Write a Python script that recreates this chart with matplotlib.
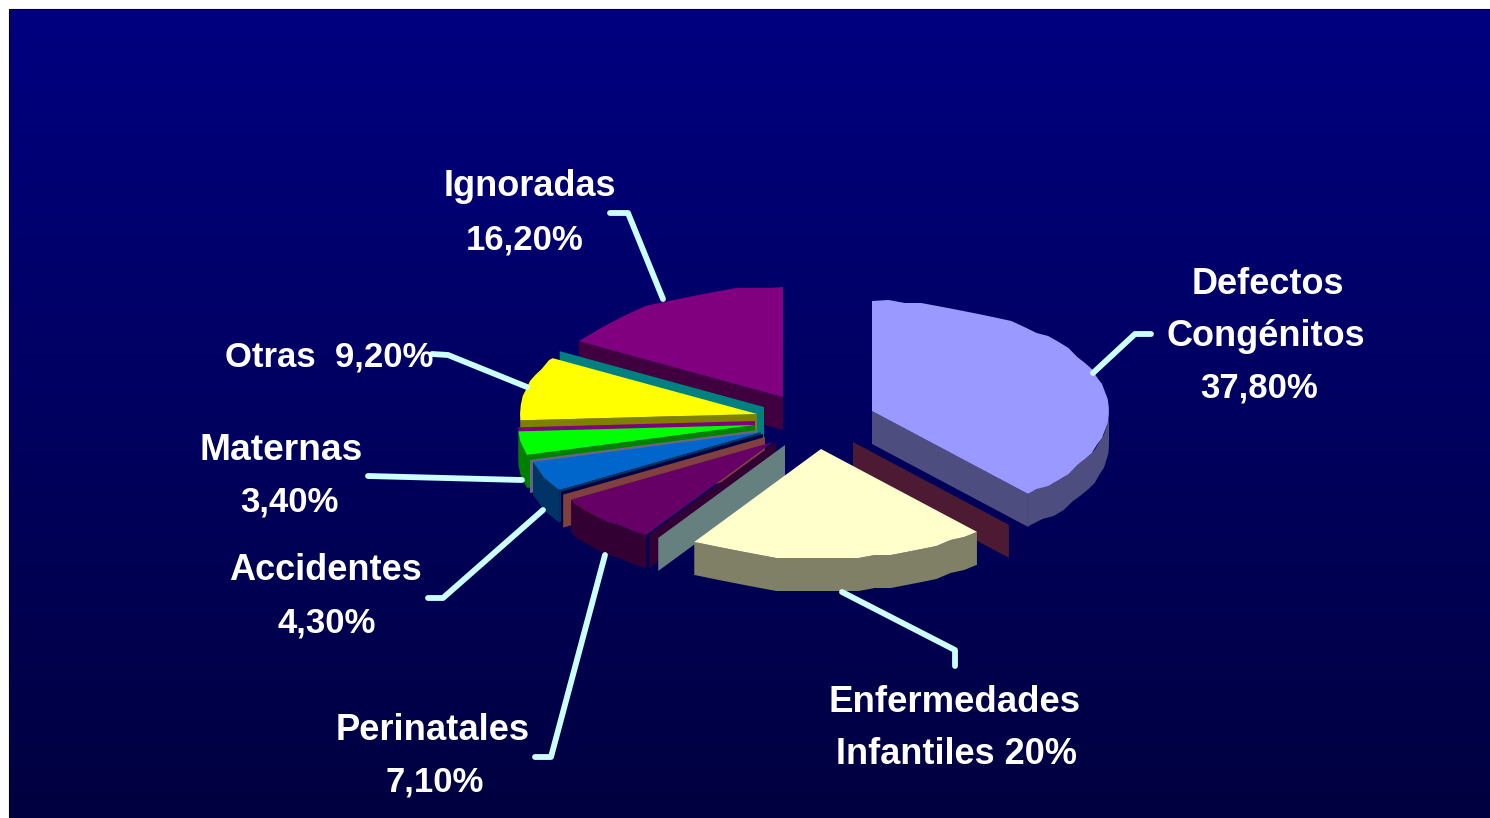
#Recreate exploded 3D pie chart of causes

### IMPORT PACKAGES ###
import numpy as np
import matplotlib
matplotlib.use('Agg')
import matplotlib.pyplot as plt
from matplotlib.patches import Polygon


### DATA ###

#Clockwise from 12 o'clock. The zero rows are empty slices, they only show a cut face
slice_names = ['Defectos Congenitos', 'blank a', 'Enfermedades Infantiles', 'blank b', 'blank c',
               'Perinatales', 'blank d', 'blank e', 'Accidentes', 'blank f', 'Maternas',
               'blank g', 'Otras', 'blank h', 'Ignoradas']
slice_values = [37.8, 0, 20, 0, 0, 7.1, 0, 0, 4.3, 0, 3.4, 0, 9.2, 0, 16.2]
slice_colors = ['#9999FF', '#993366', '#FFFFCC', '#CCFFFF', '#660066', '#660066', '#FF8080', '#000080',
                '#0066CC', '#CCCCFF', '#00FF00', '#FF00FF', '#FFFF00', '#00FFFF', '#800080']

#Where each exploded slice has its point on the picture
apex_x = [872, 853, 821, 785, 776, 773, 765, 763, 761, 758, 755, 755, 757, 764, 783]
apex_y = [411, 442, 449, 445, 442, 442, 437, 434, 432, 430, 425, 421, 414, 407, 397]

#Back to front
draw_order = [14, 13, 12, 11, 10, 9, 8, 7, 6, 5, 4, 3, 1, 2, 0]
no_face = [5]

label_lines = ['Ignoradas', '16,20%', 'Defectos', 'Congénitos', '37,80%', 'Otras  9,20%', 'Maternas', '3,40%',
               'Accidentes', '4,30%', 'Perinatales', '7,10%', 'Enfermedades', 'Infantiles 20%']
label_x = [530, 525, 1268, 1266, 1259, 329, 281, 289, 325, 327, 433, 435, 955, 957]
label_y = [187, 240, 284, 336, 388, 357, 450, 502, 571, 623, 730, 782, 703, 754]
label_size = [26, 25, 26, 26, 25, 25, 26.7, 25, 26, 25, 26.2, 25, 26.4, 26]

leader_lines = [[(610, 213), (628, 213), (663, 299)],
                [(1151, 334), (1135, 334), (1093, 373)],
                [(432, 354), (448, 355), (527, 387)],
                [(368, 476), (522, 480)],
                [(428, 598), (443, 598), (543, 510)],
                [(535, 757), (551, 757), (605, 555)],
                [(955, 666), (955, 650), (842, 592)]]

rx = 237
ry = 110
depth = 33


### DEFINE FUNCTIONS ###

#Points along the rim of a slice, snapped a bit because the original outline is stepped
def ArcPoints(cx, cy, a0, a1):
    angles = np.arange(a0, a1, 4.0)
    angles = np.append(angles, a1)
    x = cx + rx*np.sin(np.radians(angles))
    y = cy - ry*np.cos(np.radians(angles))
    y[1:-1] = np.round(y[1:-1]/3.0)*3.0
    return np.column_stack((x, y))

#Half brightness colour used on the sides of the pie
def Darker(color):
    return tuple(c/2.0 for c in matplotlib.colors.to_rgb(color))

#Flat side that runs from the apex to the rim at one angle
def DrawFace(ax, cx, cy, angle, color):
    ox = cx + rx*np.sin(np.radians(angle))
    oy = cy - ry*np.cos(np.radians(angle))
    pts = [(cx, cy), (ox, oy), (ox, oy + depth), (cx, cy + depth)]
    ax.add_patch(Polygon(pts, closed=True, facecolor=Darker(color), edgecolor='none'))

#Draw one slice: side faces, rim, then top
def DrawSlice(ax, i, a0, a1):
    cx = apex_x[i]
    cy = apex_y[i]
    color = slice_colors[i]

    if i not in no_face:
        if a0 > 180:
            DrawFace(ax, cx, cy, a0, color)
        elif a1 < 180:
            DrawFace(ax, cx, cy, a1, color)

    if slice_values[i] == 0:
        return

    r0 = max(a0, 90)
    r1 = min(a1, 270)
    if r1 > r0:
        rim = ArcPoints(cx, cy, r0, r1)
        low = rim + np.array([0, depth])
        ax.add_patch(Polygon(np.vstack((rim, low[::-1])), closed=True,
                             facecolor=Darker(color), edgecolor='none'))

    top = np.vstack(([(cx, cy)], ArcPoints(cx, cy, a0, a1)))
    ax.add_patch(Polygon(top, closed=True, facecolor=color, edgecolor='none'))


### MAIN ###

fig = plt.figure(figsize=(14.9, 8.18), dpi=100, facecolor='white')
ax = fig.add_axes([0, 0, 1, 1])
ax.set_xlim(0, 1490)
ax.set_ylim(818, 0)
ax.axis('off')

#Background gradient
grad = np.linspace(0, 1, 256).reshape(-1, 1)
rgb = np.zeros((256, 1, 3))
rgb[:, :, 2] = (128 - 64*grad)/255.0
ax.imshow(rgb, extent=[9, 1490, 818, 9], aspect='auto', zorder=0, interpolation='bilinear')
ax.plot([9, 9, 1490], [818, 9, 9], color='black', lw=0.8, zorder=1)
ax.set_xlim(0, 1490)
ax.set_ylim(818, 0)

#Slice angles, measured clockwise from the top
edges = np.concatenate(([0], np.cumsum(slice_values)))*360.0/sum(slice_values)
for i in draw_order:
    DrawSlice(ax, i, edges[i], edges[i + 1])

#Leader lines
for line in leader_lines:
    xs = [p[0] for p in line]
    ys = [p[1] for p in line]
    ax.plot(xs, ys, color='#CCFFFF', lw=4.2, solid_capstyle='round', solid_joinstyle='round', zorder=5)

#Labels
for text, x, y, size in zip(label_lines, label_x, label_y, label_size):
    ax.text(x, y, text, color='white', fontsize=size, fontweight='bold', family='Liberation Sans',
            ha='center', va='center', zorder=6)

fig.savefig('out.png', dpi=100)
